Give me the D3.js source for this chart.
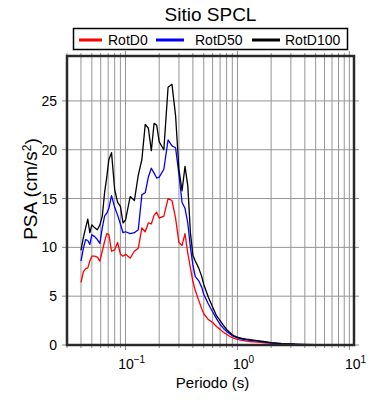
<!DOCTYPE html>
<html>
<head>
<meta charset="utf-8">
<script src="https://cdn.jsdelivr.net/npm/d3@7"></script>
<style>
  body { margin: 0; background: #fff; }
  svg { font-family: "Liberation Sans", Arial, sans-serif; }
</style>
</head>
<body>
<div id="chart"></div>
<script>
// Periods (s) and spectral accelerations
var periods = [0.040, 0.042, 0.044, 0.046, 0.048, 0.050, 0.053, 0.056, 0.059, 0.062,
               0.065, 0.068, 0.071, 0.075, 0.080, 0.085, 0.090, 0.095, 0.10, 0.11,
               0.12, 0.13, 0.14, 0.15, 0.16, 0.17, 0.18, 0.19, 0.20, 0.22,
               0.24, 0.26, 0.28, 0.30, 0.32, 0.34, 0.36, 0.38, 0.40, 0.42,
               0.45, 0.48, 0.50, 0.55, 0.60, 0.65, 0.70, 0.75, 0.80, 0.85,
               0.90, 0.95, 1.0, 1.1, 1.2, 1.3, 1.5, 1.7, 2.0, 2.5,
               3.0, 3.5, 4.0, 5.0, 6.0, 7.5, 10];

var rotD0 = [6.4, 7.5, 7.8, 7.9, 8.6, 9.1, 9.1, 9.0, 8.6, 9.6,
             10.6, 11.4, 11.3, 9.6, 9.75, 10.5, 9.3, 9.1, 9.3, 8.9,
             9.6, 9.9, 12.0, 11.6, 12.5, 12.4, 13.3, 13.6, 13.0, 13.2,
             15.0, 14.8, 13.0, 10.5, 10.2, 11.4, 9.4, 7.9, 6.5, 5.6,
             4.6, 3.7, 3.2, 2.6, 2.3, 1.9, 1.6, 1.3, 1.1, 0.9,
             0.75, 0.65, 0.57, 0.47, 0.40, 0.36, 0.30, 0.25, 0.17, 0.10,
             0.07, 0.05, 0.04, 0.03, 0.02, 0.015, 0.01];

var rotD50 = [8.6, 9.9, 10.8, 10.7, 10.3, 11.3, 11.1, 10.8, 10.4, 12.0,
              13.2, 13.5, 14.0, 15.3, 14.1, 13.3, 12.4, 11.5, 11.6, 11.4,
              11.5, 11.8, 15.4, 15.6, 17.2, 18.1, 17.6, 17.1, 17.2, 18.0,
              21.0, 20.4, 20.2, 17.5, 14.6, 14.0, 12.5, 10.0, 8.2, 7.0,
              6.6, 5.9, 5.2, 4.2, 3.4, 2.7, 2.1, 1.7, 1.4, 1.15,
              0.95, 0.82, 0.72, 0.60, 0.53, 0.48, 0.40, 0.32, 0.22, 0.13,
              0.09, 0.06, 0.045, 0.035, 0.025, 0.018, 0.01];

var rotD100 = [9.7, 11.0, 12.0, 12.9, 11.5, 12.3, 12.0, 11.8, 12.3, 13.2,
               15.6, 17.2, 19.0, 19.7, 15.9, 14.6, 14.2, 12.5, 12.8, 15.2,
               14.8, 17.4, 19.0, 22.6, 22.2, 19.9, 22.7, 22.5, 20.8, 20.0,
               26.4, 26.7, 23.5, 18.0, 15.8, 18.3, 16.3, 11.5, 9.2, 8.6,
               7.9, 7.0, 6.2, 4.9, 3.9, 3.0, 2.5, 2.0, 1.6, 1.3,
               1.05, 0.9, 0.8, 0.68, 0.60, 0.55, 0.45, 0.36, 0.25, 0.15,
               0.10, 0.07, 0.05, 0.04, 0.03, 0.02, 0.01];

var seriesNames = ["RotD0", "RotD50", "RotD100"];
var seriesColors = ["#ff0000", "#0000ff", "#000000"];
var yTicks = [0, 5, 10, 15, 20, 25];
var xMajor = [0.1, 1, 10];
var xMajorExp = ["\u22121", "0", "1"];

(function () {
    var W = 390, H = 400;
    var margin = {top: 56, right: 36, bottom: 55, left: 67};
    var width = W - margin.left - margin.right;
    var height = H - margin.top - margin.bottom;

    var svg = d3.select("#chart").append("svg")
        .attr("width", W)
        .attr("height", H);

    var x = d3.scaleLog().domain([0.03, 11]).range([0, width]);
    var y = d3.scaleLinear().domain([0, 29.6]).range([height, 0]);

    // all log grid positions 0.03 .. 10
    var xGrid = [];
    [0.01, 0.1, 1].forEach(function (dec) {
        for (var k = 1; k < 10; k++) {
            var v = +(k * dec).toPrecision(3);
            if (v >= 0.03) xGrid.push(v);
        }
    });
    xGrid.push(10);

    var g = svg.append("g")
        .attr("transform", "translate(" + margin.left + "," + margin.top + ")");

    // gridlines
    g.append("g").selectAll("line.vg")
        .data(xGrid)
        .enter().append("line")
        .attr("x1", function (d) { return x(d); })
        .attr("x2", function (d) { return x(d); })
        .attr("y1", 0).attr("y2", height)
        .attr("stroke", "#959595").attr("stroke-width", 1);

    g.append("g").selectAll("line.hg")
        .data(yTicks.slice(1))
        .enter().append("line")
        .attr("x1", 0).attr("x2", width)
        .attr("y1", function (d) { return y(d); })
        .attr("y2", function (d) { return y(d); })
        .attr("stroke", "#959595").attr("stroke-width", 1);

    // outside ticks (bottom/top/left/right)
    function xTickLen(d) { return xMajor.indexOf(d) >= 0 ? 5 : 3; }

    var ticks = g.append("g").attr("stroke", "#888").attr("stroke-width", 1);
    ticks.selectAll("line.bt").data(xGrid).enter().append("line")
        .attr("x1", function (d) { return x(d); }).attr("x2", function (d) { return x(d); })
        .attr("y1", height).attr("y2", function (d) { return height + xTickLen(d); });
    ticks.selectAll("line.tt").data(xGrid).enter().append("line")
        .attr("x1", function (d) { return x(d); }).attr("x2", function (d) { return x(d); })
        .attr("y1", 0).attr("y2", function (d) { return -xTickLen(d); });
    ticks.selectAll("line.lt").data(yTicks).enter().append("line")
        .attr("x1", -5).attr("x2", 0)
        .attr("y1", function (d) { return y(d); }).attr("y2", function (d) { return y(d); });
    ticks.selectAll("line.rt").data(yTicks).enter().append("line")
        .attr("x1", width).attr("x2", width + 5)
        .attr("y1", function (d) { return y(d); }).attr("y2", function (d) { return y(d); });

    // y tick labels
    var yAxis = d3.axisLeft(y).tickValues(yTicks).tickSize(0).tickPadding(10);
    var ya = g.append("g").call(yAxis);
    ya.select(".domain").remove();
    ya.selectAll("text").attr("font-size", 14).attr("fill", "#000")
        .attr("font-family", "Liberation Sans, Arial, sans-serif");

    // x tick labels with exponents
    var xAxis = d3.axisBottom(x).tickValues(xMajor).tickSize(0).tickPadding(14)
        .tickFormat(function () { return ""; });
    var xa = g.append("g").attr("transform", "translate(0," + height + ")").call(xAxis);
    xa.select(".domain").remove();
    xa.selectAll("text").each(function (d, i) {
        var t = d3.select(this)
            .attr("font-size", 14).attr("fill", "#000")
            .attr("font-family", "Liberation Sans, Arial, sans-serif")
            .attr("text-anchor", "middle")
            .attr("dx", "0.4em");
        t.append("tspan").text("10");
        t.append("tspan").attr("font-size", 10).attr("dy", "-0.55em").text(xMajorExp[i]);
    });

    // series
    g.append("clipPath").attr("id", "plotclip")
        .append("rect").attr("width", width).attr("height", height);

    var line = d3.line()
        .x(function (d) { return x(d[0]); })
        .y(function (d) { return y(d[1]); });

    var allSeries = [rotD0, rotD50, rotD100];
    var lines = g.append("g").attr("clip-path", "url(#plotclip)");
    allSeries.forEach(function (vals, s) {
        lines.append("path")
            .datum(periods.map(function (p, i) { return [p, vals[i]]; }))
            .attr("fill", "none")
            .attr("stroke", seriesColors[s])
            .attr("stroke-width", 1.3)
            .attr("stroke-linejoin", "round")
            .attr("d", line);
    });

    // frame
    g.append("rect")
        .attr("width", width).attr("height", height)
        .attr("fill", "none").attr("stroke", "#2a2a2a").attr("stroke-width", 2.5);

    // title
    svg.append("text")
        .attr("x", margin.left + width / 2).attr("y", 21)
        .attr("text-anchor", "middle")
        .attr("font-size", 19)
        .text("Sitio SPCL");

    // legend
    var leg = svg.append("g");
    leg.append("rect")
        .attr("x", 73.5).attr("y", 28.5).attr("width", 274).attr("height", 21)
        .attr("fill", "#fff").attr("stroke", "#000").attr("stroke-width", 1.5);
    var legX = [79, 156, 252];
    seriesNames.forEach(function (name, s) {
        leg.append("line")
            .attr("x1", legX[s]).attr("x2", legX[s] + 23 + (s > 0 ? 5 : 0))
            .attr("y1", 40).attr("y2", 40)
            .attr("stroke", seriesColors[s]).attr("stroke-width", 3);
        leg.append("text")
            .attr("x", legX[s] + (s === 0 ? 29 : s === 1 ? 39 : 33)).attr("y", 45)
            .attr("font-size", 14)
            .text(name);
    });

    // axis titles
    svg.append("text")
        .attr("x", margin.left + width / 2 + 2).attr("y", 388)
        .attr("text-anchor", "middle")
        .attr("font-size", 15)
        .text("Periodo (s)");

    var yl = svg.append("text")
        .attr("transform", "translate(37," + 189 + ") rotate(-90)")
        .attr("text-anchor", "middle")
        .attr("font-size", 19);
    yl.append("tspan").text("PSA (cm/s");
    yl.append("tspan").attr("font-size", 12).attr("dy", "-0.5em").text("2");
    yl.append("tspan").attr("dy", "0.35em").text(")");
})();
</script>
</body>
</html>
